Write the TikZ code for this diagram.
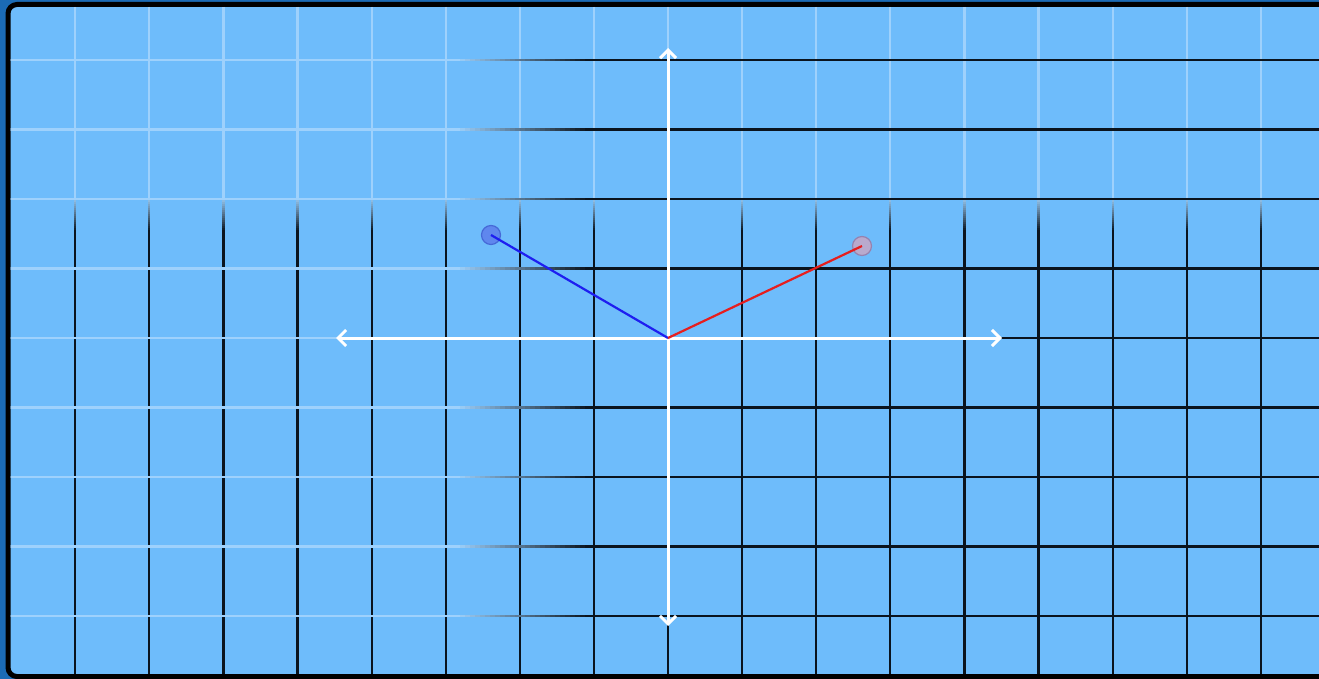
\documentclass[tikz,border=0pt]{standalone}
\usetikzlibrary{arrows.meta}
\definecolor{bg}{RGB}{110,188,251}
\definecolor{frameblue}{RGB}{27,107,181}
\definecolor{wgrid}{RGB}{158,209,252}
\definecolor{bgrid}{RGB}{10,20,30}
\definecolor{vecblue}{RGB}{30,30,240}
\definecolor{vecred}{RGB}{230,30,30}
\definecolor{ballblue}{RGB}{95,135,238}
\definecolor{ballblueedge}{RGB}{70,105,215}
\definecolor{ballred}{RGB}{185,170,205}
\definecolor{balllrededge}{RGB}{150,130,175}
\tikzset{
  wline/.style={draw=wgrid, line width=2.2pt},
  bline/.style={draw=bgrid, line width=2.2pt},
  fadeseg/.style={line width=2.2pt},
  axis/.style={draw=white, line width=3pt, {Straight Barb[length=8pt,width=16pt]}-{Straight Barb[length=8pt,width=16pt]}},
  vec/.style={line width=2.2pt},
  ballnode/.style={circle, minimum size=19pt, inner sep=0pt, line width=1.2pt}
}
\begin{document}
\begin{tikzpicture}[x=1pt,y=-1pt]
\useasboundingbox (0,0) rectangle (1319,679);
\clip (0,0) rectangle (1319,679);
\fill[frameblue] (0,0) rectangle (1319,679);
\fill[bg, draw=black, line width=5pt, rounded corners=9pt] (8,4.5) rectangle (1345,676.5);
\begin{scope}
\clip (10.5,7) rectangle (1319,674);
% vertical grid lines
\foreach \k in {-8,...,8} {
  \pgfmathsetmacro\xx{668+74.1*\k}
  \draw[wline] (\xx,7) -- (\xx,196);
  \foreach \i in {0,...,17} {
    \pgfmathsetmacro\pc{100-\i*100/17}
    \pgfmathsetmacro\ya{196+\i*2}
    \pgfmathsetmacro\yb{\ya+2.2}
    \draw[fadeseg, draw=wgrid!\pc!bgrid] (\xx,\ya) -- (\xx,\yb);
  }
  \draw[bline] (\xx,232) -- (\xx,674);
}
% horizontal grid lines
\foreach \k in {-4,...,4} {
  \pgfmathsetmacro\yy{338+69.5*\k}
  \draw[wline] (10,\yy) -- (455,\yy);
  \foreach \i in {0,...,26} {
    \pgfmathsetmacro\pc{100-\i*100/26}
    \pgfmathsetmacro\xa{455+\i*5}
    \pgfmathsetmacro\xb{\xa+5.2}
    \draw[fadeseg, draw=wgrid!\pc!bgrid] (\xa,\yy) -- (\xb,\yy);
  }
  \draw[bline] (590,\yy) -- (1319,\yy);
}
\end{scope}
% axes
\coordinate (O) at (668,338);
\coordinate (xl) at (336,338);
\coordinate (xr) at (1002,338);
\coordinate (yt) at (668,48);
\coordinate (yb) at (668,626);
\draw[axis] (xl) -- (xr);
\draw[axis] (yb) -- (yt);
% vectors
\node[ballnode, fill=ballblue, draw=ballblueedge] (B) at (491,235) {};
\node[ballnode, fill=ballred, draw=balllrededge] (R) at (862,246) {};
\draw[vec, vecblue] (O) -- (B.center);
\draw[vec, vecred] (O) -- (R.center);
\end{tikzpicture}
\end{document}
